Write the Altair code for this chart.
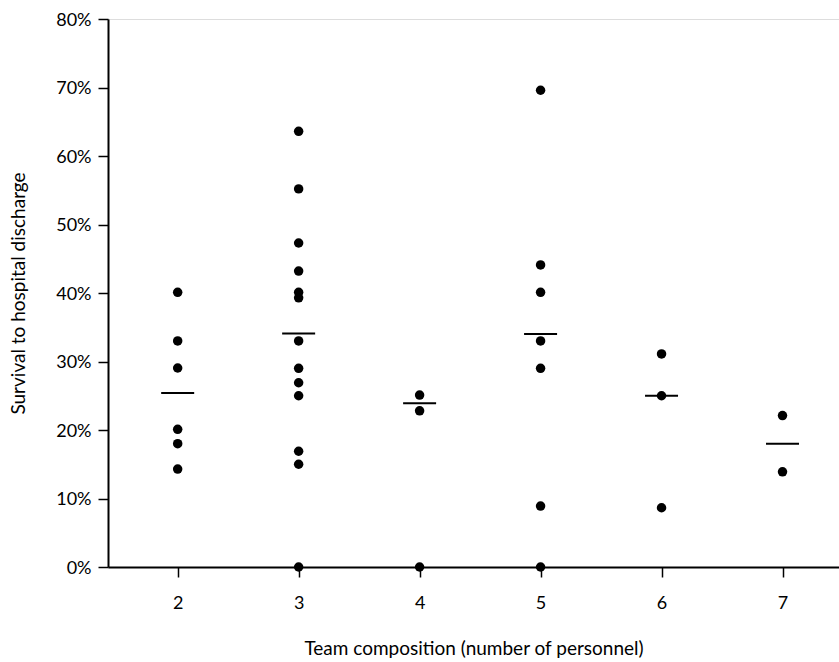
import altair as alt
import pandas as pd

team_sizes = [2, 3, 4, 5, 6, 7]

survival_2 = [40.1, 33.0, 29.05, 20.1, 18.0, 14.3]
survival_3 = [63.6, 55.2, 47.3, 43.2, 40.1, 39.3, 33.0, 29.0, 26.9, 25.0, 16.9, 15.0, 0.0]
survival_4 = [25.1, 22.8, 0.0]
survival_5 = [69.6, 44.1, 40.1, 33.0, 29.0, 8.9, 0.0]
survival_6 = [31.1, 25.0, 8.65]
survival_7 = [22.1, 13.9]

mean_lines = [25.4, 34.1, 23.9, 34.0, 25.0, 18.0]

groups = [survival_2, survival_3, survival_4, survival_5, survival_6, survival_7]
rows = []
for size, vals in zip(team_sizes, groups):
    for v in vals:
        rows.append({"team": size, "survival": v / 100})
points_df = pd.DataFrame(rows)
means_df = pd.DataFrame({"team": team_sizes, "survival": [m / 100 for m in mean_lines]})

FONT = "Lato"

x_enc = alt.X(
    "team:Q",
    scale=alt.Scale(domain=[1.424, 7.467], nice=False, zero=False),
    axis=alt.Axis(
        values=team_sizes,
        format="d",
        title="Team composition (number of personnel)",
        grid=False,
        domainColor="black",
        domainWidth=2,
        tickColor="black",
        tickWidth=1.5,
        tickSize=10,
        labelFontSize=18,
        labelColor="black",
        labelFont=FONT,
        labelPadding=17,
        titleFont=FONT,
        titleFontSize=19,
        titleFontWeight="normal",
        titleColor="black",
        titlePadding=27,
    ),
)

y_enc = alt.Y(
    "survival:Q",
    scale=alt.Scale(domain=[0, 0.8], nice=False),
    axis=alt.Axis(
        values=[0, 0.1, 0.2, 0.3, 0.4, 0.5, 0.6, 0.7, 0.8],
        format=".0%",
        title="Survival to hospital discharge",
        grid=False,
        domainColor="black",
        domainWidth=2,
        tickColor="black",
        tickWidth=1.5,
        tickSize=10,
        labelFontSize=18,
        labelColor="black",
        labelFont=FONT,
        labelPadding=7,
        labelBaseline="top",
        labelOffset=-8,
        titleFont=FONT,
        titleFontSize=19,
        titleFontWeight="normal",
        titleColor="black",
        titlePadding=27,
    ),
)

points = alt.Chart(points_df).mark_circle(size=90, color="black", opacity=1).encode(
    x=x_enc, y=y_enc
)

means = alt.Chart(means_df).mark_tick(
    orient="horizontal", size=33, thickness=2, color="black", opacity=1
).encode(x="team:Q", y="survival:Q")

chart = (
    alt.layer(means, points)
    .properties(
        width=731,
        height=548,
        autosize=alt.AutoSizeParams(type="none"),
        padding={"left": 108, "top": 19, "right": 0, "bottom": 95},
    )
    .configure_view(stroke=None)
    .configure(background="white")
)

chart.save("out.html", embed_options={"renderer": "svg", "actions": False})
